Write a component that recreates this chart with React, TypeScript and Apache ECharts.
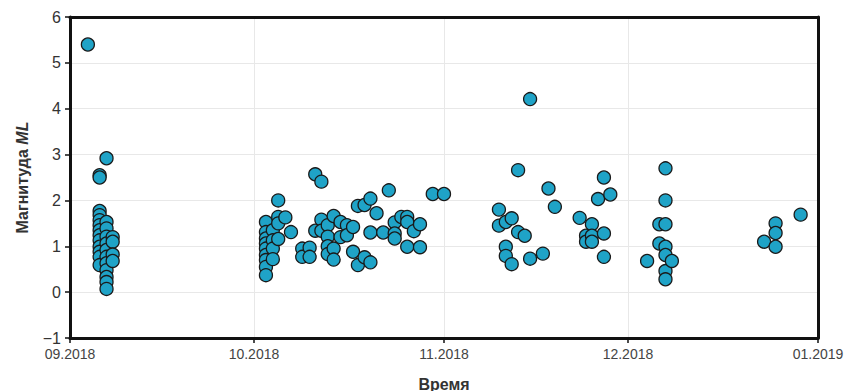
import React, { useEffect, useRef } from "react";
import * as echarts from "echarts";

const yTicks = [-1, 0, 1, 2, 3, 4, 5, 6];
const xTickDates = ["2018-09-01", "2018-10-01", "2018-11-01", "2018-12-01", "2019-01-01"];
const xTickLabels = ["09.2018", "10.2018", "11.2018", "12.2018", "01.2019"];

// [date, magnitude ML]
const septemberEvents: [string, number][] = [
  ["2018-09-03T22:00", 5.4],
  ["2018-09-05T20:00", 2.55], ["2018-09-05T20:00", 2.5], ["2018-09-05T20:00", 1.77],
  ["2018-09-05T20:00", 1.68], ["2018-09-05T20:00", 1.57], ["2018-09-05T20:00", 1.46],
  ["2018-09-05T20:00", 1.35], ["2018-09-05T20:00", 1.24], ["2018-09-05T20:00", 1.13],
  ["2018-09-05T20:00", 0.99], ["2018-09-05T20:00", 0.88], ["2018-09-05T20:00", 0.77],
  ["2018-09-05T20:00", 0.59],
  ["2018-09-06T23:00", 2.92], ["2018-09-06T23:00", 1.53], ["2018-09-06T23:00", 1.39],
  ["2018-09-06T23:00", 1.21], ["2018-09-06T23:00", 1.06], ["2018-09-06T23:00", 0.92],
  ["2018-09-06T23:00", 0.77], ["2018-09-06T23:00", 0.63], ["2018-09-06T23:00", 0.48],
  ["2018-09-06T23:00", 0.33], ["2018-09-06T23:00", 0.22], ["2018-09-06T23:00", 0.07],
  ["2018-09-07T23:00", 1.2], ["2018-09-07T23:00", 1.1], ["2018-09-07T23:00", 0.82],
  ["2018-09-07T23:00", 0.68],
];

const octoberEvents: [string, number][] = [
  ["2018-10-02T23:00", 1.53], ["2018-10-02T23:00", 1.31], ["2018-10-02T23:00", 1.17],
  ["2018-10-02T23:00", 1.06], ["2018-10-02T23:00", 0.95], ["2018-10-02T23:00", 0.81],
  ["2018-10-02T23:00", 0.7], ["2018-10-02T23:00", 0.55], ["2018-10-02T23:00", 0.37],
  ["2018-10-04T02:00", 1.35], ["2018-10-04T02:00", 1.13], ["2018-10-04T02:00", 0.95],
  ["2018-10-04T02:00", 0.72],
  ["2018-10-04T23:00", 2.0], ["2018-10-04T23:00", 1.64], ["2018-10-04T23:00", 1.5],
  ["2018-10-04T23:00", 1.16],
  ["2018-10-06T03:00", 1.63],
  ["2018-10-07T01:00", 1.31],
  ["2018-10-08T21:00", 0.95], ["2018-10-08T21:00", 0.77],
  ["2018-10-10T02:00", 0.97], ["2018-10-10T02:00", 0.77],
  ["2018-10-11T00:00", 2.57], ["2018-10-11T00:00", 1.34],
  ["2018-10-12T00:00", 2.41], ["2018-10-12T00:00", 1.58], ["2018-10-12T00:00", 1.34],
  ["2018-10-13T01:00", 1.46], ["2018-10-13T01:00", 1.21], ["2018-10-13T01:00", 1.0],
  ["2018-10-13T01:00", 0.83],
  ["2018-10-14T00:00", 1.66], ["2018-10-14T00:00", 0.95], ["2018-10-14T00:00", 0.71],
  ["2018-10-15T03:00", 1.53], ["2018-10-15T03:00", 1.2],
  ["2018-10-16T04:00", 1.46], ["2018-10-16T04:00", 1.24],
  ["2018-10-17T04:00", 1.42], ["2018-10-17T04:00", 0.88],
  ["2018-10-17T23:00", 1.88], ["2018-10-17T23:00", 0.59],
  ["2018-10-19T01:00", 1.9], ["2018-10-19T01:00", 0.76],
  ["2018-10-20T00:00", 2.04], ["2018-10-20T00:00", 1.3], ["2018-10-20T00:00", 0.65],
  ["2018-10-21T00:00", 1.72],
  ["2018-10-22T02:00", 1.3],
  ["2018-10-23T00:00", 2.22],
  ["2018-10-23T23:00", 1.52], ["2018-10-23T23:00", 1.28], ["2018-10-23T23:00", 1.17],
  ["2018-10-25T01:00", 1.64],
  ["2018-10-26T00:00", 1.64], ["2018-10-26T00:00", 1.53], ["2018-10-26T00:00", 0.99],
  ["2018-10-27T02:00", 1.33],
  ["2018-10-28T02:00", 1.48], ["2018-10-28T02:00", 0.98],
  ["2018-10-30T04:00", 2.14],
  ["2018-11-01T00:00", 2.14],
];

const novemberEvents: [string, number][] = [
  ["2018-11-09T23:00", 1.8], ["2018-11-09T23:00", 1.45],
  ["2018-11-11T02:00", 1.53], ["2018-11-11T02:00", 0.99], ["2018-11-11T02:00", 0.79],
  ["2018-11-12T01:00", 1.61], ["2018-11-12T01:00", 0.61],
  ["2018-11-13T02:00", 2.66], ["2018-11-13T02:00", 1.31],
  ["2018-11-14T04:00", 1.23],
  ["2018-11-15T01:00", 4.21], ["2018-11-15T01:00", 0.73],
  ["2018-11-17T03:00", 0.84],
  ["2018-11-18T01:00", 2.26],
  ["2018-11-19T02:00", 1.86],
  ["2018-11-23T03:00", 1.62],
  ["2018-11-24T04:00", 1.23], ["2018-11-24T04:00", 1.1],
  ["2018-11-25T03:00", 1.48], ["2018-11-25T03:00", 1.23], ["2018-11-25T03:00", 1.1],
  ["2018-11-26T03:00", 2.03],
  ["2018-11-27T02:00", 2.5], ["2018-11-27T02:00", 1.28], ["2018-11-27T02:00", 0.77],
  ["2018-11-28T03:00", 2.13],
];

const decemberEvents: [string, number][] = [
  ["2018-12-04T03:00", 0.68],
  ["2018-12-06T03:00", 1.48], ["2018-12-06T03:00", 1.06],
  ["2018-12-07T03:00", 2.7], ["2018-12-07T03:00", 2.0], ["2018-12-07T03:00", 1.48],
  ["2018-12-07T03:00", 0.99], ["2018-12-07T03:00", 0.81], ["2018-12-07T03:00", 0.46],
  ["2018-12-07T03:00", 0.28],
  ["2018-12-08T04:00", 0.68],
  ["2018-12-23T05:00", 1.1],
  ["2018-12-25T02:00", 1.5], ["2018-12-25T02:00", 1.29], ["2018-12-25T02:00", 0.99],
  ["2018-12-29T04:00", 1.69],
];

const allEvents = [...septemberEvents, ...octoberEvents, ...novemberEvents, ...decemberEvents];

export default function App() {
  const ref = useRef<HTMLDivElement>(null);

  useEffect(() => {
    if (!ref.current) return;
    const chart = echarts.init(ref.current, null, { renderer: "svg" });
    const ts = (s: string) => new Date(s.length <= 10 ? s + "T00:00" : s).getTime();
    const monthStarts = xTickDates.map(ts);
    const font = "Liberation Sans, Arial, sans-serif";
    const xMin = monthStarts[0];
    const xMax = monthStarts[monthStarts.length - 1];
    const yMin = yTicks[0];
    const yMax = yTicks[yTicks.length - 1];
    const frameLine = { show: true, onZero: false, lineStyle: { color: "#111", width: 3 } };

    chart.setOption({
      animation: false,
      backgroundColor: "#ffffff",
      grid: { left: 70, right: 29, top: 17, bottom: 53, outerBoundsMode: "none", containLabel: false },
      xAxis: [
        {
          type: "value",
          min: xMin,
          max: xMax,
          name: "Время",
          nameLocation: "middle",
          nameGap: 38,
          nameTextStyle: { fontFamily: font, fontSize: 16, fontWeight: "bold", color: "#333" },
          axisLine: frameLine,
          axisTick: {
            show: true,
            customValues: monthStarts,
            length: 5,
            lineStyle: { color: "#111", width: 1.5 },
          },
          axisLabel: {
            customValues: monthStarts,
            fontFamily: font,
            fontSize: 14,
            color: "#444",
            margin: 9,
            showMinLabel: true,
            showMaxLabel: true,
            formatter: (v: number) => {
              const i = monthStarts.findIndex((m) => Math.abs(m - v) < 3600000);
              return i >= 0 ? xTickLabels[i] : "";
            },
          },
          splitLine: { show: true, lineStyle: { color: "#e8e8e8", width: 1 } },
        },
        {
          type: "value",
          position: "top",
          min: xMin,
          max: xMax,
          axisLine: frameLine,
          axisTick: { show: false },
          axisLabel: { show: false },
          splitLine: { show: false },
        },
      ],
      yAxis: [
        {
          type: "value",
          min: yMin,
          max: yMax,
          interval: 1,
          name: "{a|Магнитуда }{b|ML}",
          nameLocation: "middle",
          nameGap: 40,
          nameTextStyle: {
            rich: {
              a: { fontFamily: font, fontSize: 16, fontWeight: "bold", color: "#333" },
              b: { fontFamily: font, fontSize: 16, fontWeight: "bold", fontStyle: "italic", color: "#333" },
            },
          },
          axisLine: frameLine,
          axisTick: { show: true, length: 5, lineStyle: { color: "#111", width: 1.5 } },
          axisLabel: {
            fontFamily: font,
            fontSize: 16,
            color: "#333",
            margin: 9,
            formatter: (v: number) => (v < 0 ? "\u2212" + Math.abs(v) : String(v)),
          },
          splitLine: { show: true, lineStyle: { color: "#e8e8e8", width: 1 } },
        },
        {
          type: "value",
          position: "right",
          min: yMin,
          max: yMax,
          interval: 1,
          axisLine: frameLine,
          axisTick: { show: false },
          axisLabel: { show: false },
          splitLine: { show: false },
        },
      ],
      series: [
        {
          type: "scatter",
          xAxisIndex: 0,
          yAxisIndex: 0,
          data: allEvents.map(([d, m]) => [ts(d), m]),
          symbol: "circle",
          symbolSize: 13,
          itemStyle: { color: "#1fa3c7", borderColor: "#1a1a1a", borderWidth: 1.3, opacity: 1 },
        },
      ],
    });
    return () => chart.dispose();
  }, []);

  return (
    <div
      ref={ref}
      style={{ position: "absolute", left: 0, top: 0, width: 847, height: 391 }}
    />
  );
}
